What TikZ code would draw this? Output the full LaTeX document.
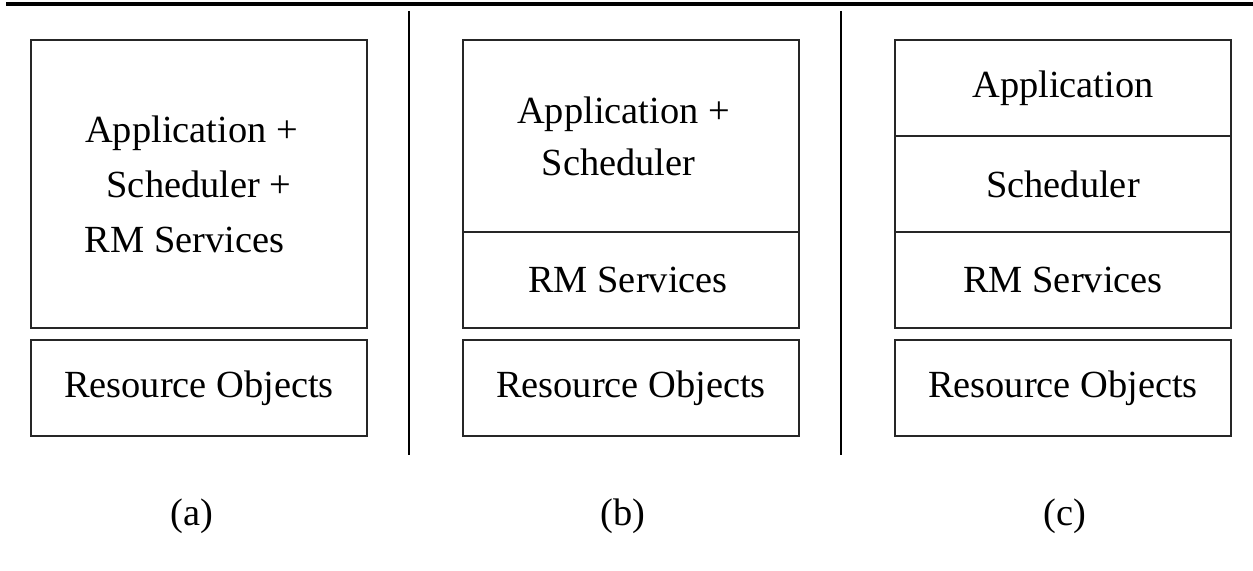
\documentclass[tikz,border=0pt]{standalone}
\usepackage{fontspec}
\setmainfont{Liberation Serif}
\begin{document}
\begin{tikzpicture}[x=0.5pt,y=-0.5pt,
  box/.style={draw=black!85, line width=0.6pt, inner sep=0pt, outer sep=0pt,
    minimum width=168pt, align=center, font=\fontsize{19.2}{27.5}\selectfont},
  caption/.style={font=\fontsize{19.2}{22}\selectfont, inner sep=0pt},
  divider/.style={line width=0.8pt, black},
  rule/.style={line width=1.6pt, black}]
\useasboundingbox (0,0) rectangle (1253,571);
% top rule
\coordinate (r0) at (6,4);
\coordinate (r1) at (1253,4);
\draw[rule] (r0) -- (r1);
% dividers
\coordinate (d1t) at (409,11);
\coordinate (d1b) at (409,455);
\coordinate (d2t) at (841,11);
\coordinate (d2b) at (841,455);
\draw[divider] (d1t) -- (d1b);
\draw[divider] (d2t) -- (d2b);
% (a)
\node[box, minimum height=144pt] (a1) at (199,184) {Application +\hspace*{7.5pt}\\Scheduler +\hspace*{9pt}\\RM Services\hspace*{14.5pt}};
\node[box, minimum height=48pt] (a2) at (199,388) {Resource Objects};
% (b)
\node[box, minimum height=96pt, font=\fontsize{19.2}{26}\selectfont] (b1) at (631,136) {Application +\hspace*{7.5pt}\\Scheduler\hspace*{12.5pt}};
\node[box, minimum height=48pt] (b2) at (631,280) {RM Services\hspace*{3pt}};
\node[box, minimum height=48pt] (b3) at (631,388) {Resource Objects};
% (c)
\node[box, minimum height=48pt] (c1) at (1063,88) {Application};
\node[box, minimum height=48pt] (c2) at (1063,184) {Scheduler};
\node[box, minimum height=48pt] (c3) at (1063,280) {RM Services};
\node[box, minimum height=48pt] (c4) at (1063,388) {Resource Objects};
% captions
\node[caption] (la) at (192,516) {(a)};
\node[caption] (lb) at (623,516) {(b)};
\node[caption] (lc) at (1065,516) {(c)};
\end{tikzpicture}
\end{document}
